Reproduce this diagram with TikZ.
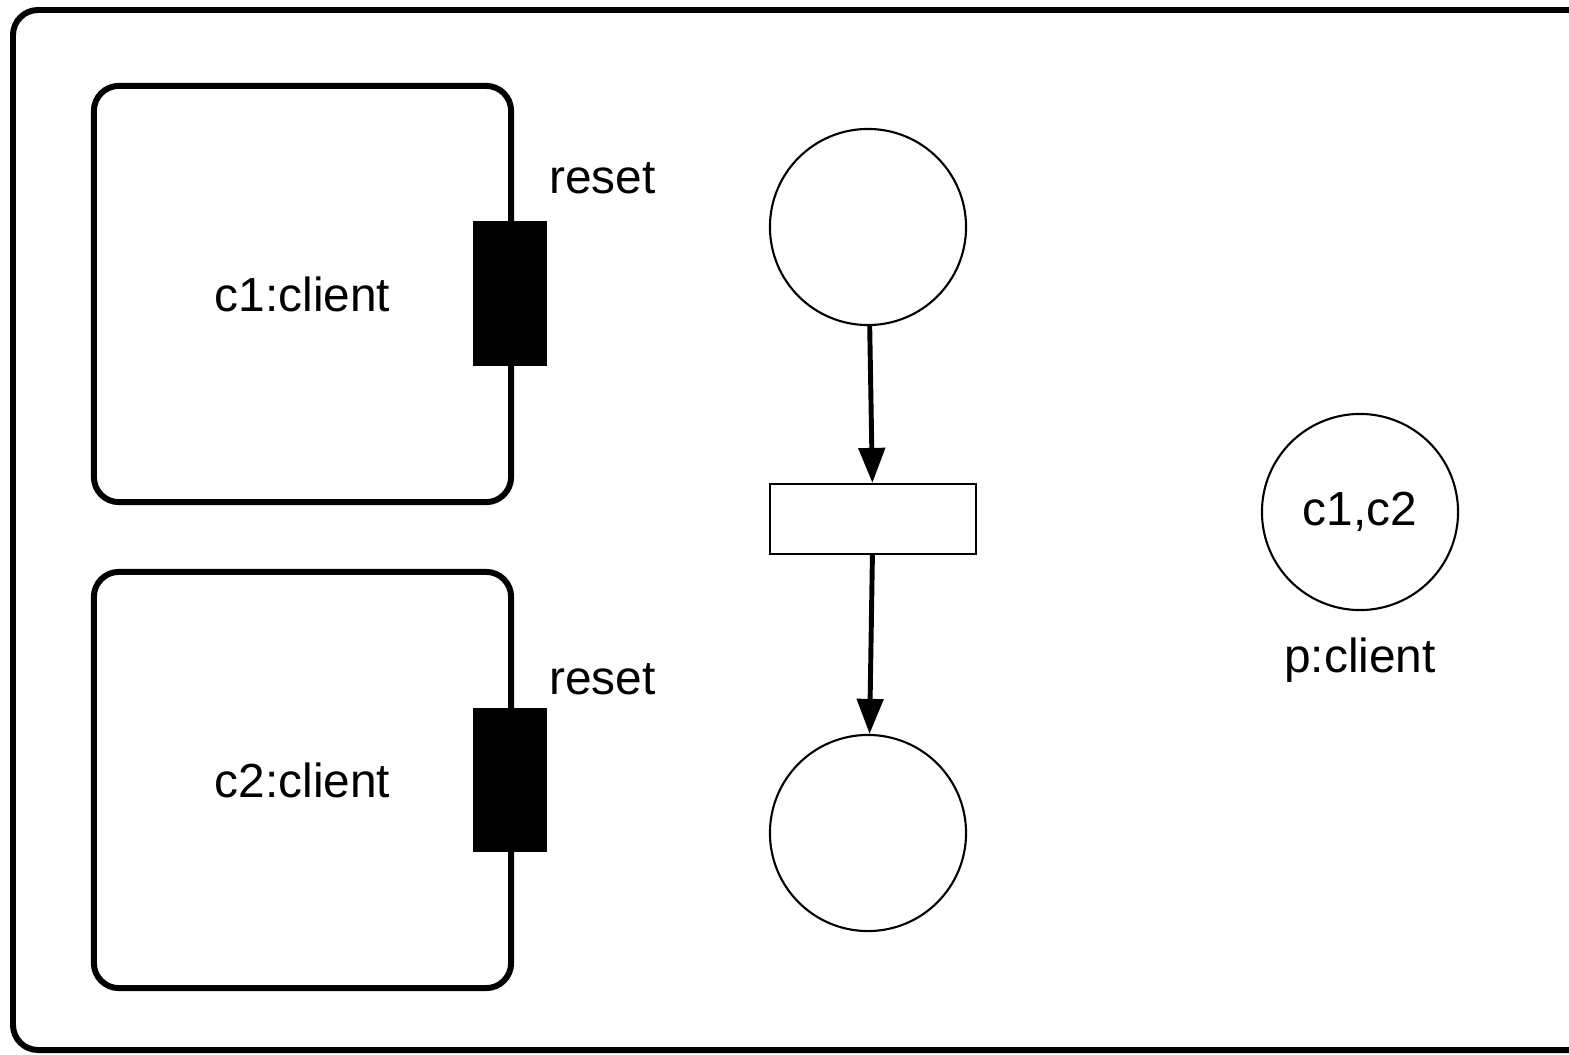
\documentclass[tikz,border=0pt]{standalone}
\usepackage{fontspec}
\setmainfont{Liberation Sans}
\usetikzlibrary{arrows.meta, positioning}

\begin{document}
\begin{tikzpicture}[
    x=0.01cm, y=-0.01cm,
    every node/.style={font=\fontsize{13.6}{16}\selectfont},
    frame/.style={draw, line width=1.7pt, rounded corners=0.25cm},
    comp/.style={draw, line width=1.7pt, rounded corners=0.25cm, minimum width=4.17cm, minimum height=4.16cm},
    port/.style={draw, fill=black, minimum width=0.72cm, minimum height=1.43cm, inner sep=0pt},
    place/.style={circle, draw, line width=0.6pt, minimum size=1.96cm, inner sep=0pt},
    trans/.style={draw, line width=0.6pt, minimum width=2.06cm, minimum height=0.7cm, inner sep=0pt},
    lbl/.style={inner sep=0pt},
    arc/.style={-{Triangle[length=0.35cm, width=0.26cm]}, line width=1.4pt}
]
\useasboundingbox (0,0) rectangle (1569,1054);
\draw[frame] (13,10) rectangle (1595,1050);

% components
\node[comp] (c1) at (302.5,294) {c1:client};
\node[comp] (c2) at (302.5,780) {c2:client};
\node[port] (port1) at (510,293.5) {};
\node[port] (port2) at (510,780) {};
\node[lbl, above right=0.27cm and 0.02cm of port1.north east] (reset1) {reset};
\node[lbl, above right=0.12cm and 0.02cm of port2.north east] (reset2) {reset};

% net
\node[place] (pin) at (868,227) {};
\node[trans] (t) at (873,519) {};
\node[place] (pout) at (868,833) {};
\node[place] (pc) at (1360,512) {c1,c2};
\node[lbl, below=0.26cm of pc] (pname) {p:client};

\draw[arc] (pin) -- (t);
\draw[arc] (t) -- (pout);
\end{tikzpicture}
\end{document}
